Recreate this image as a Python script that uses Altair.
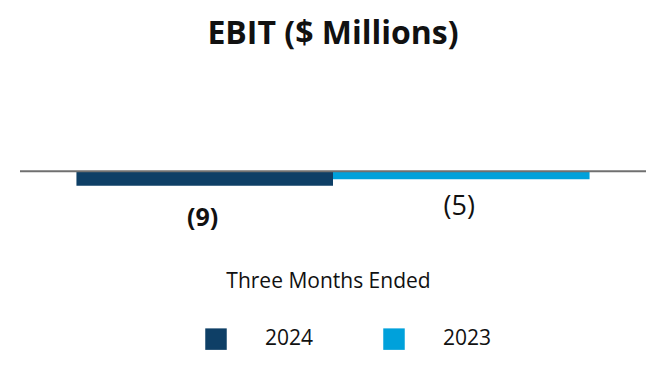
import altair as alt
import pandas as pd

years = ["2024", "2023"]
ebit = [-9, -5]
labels = ["(9)", "(5)"]
colors = ["#0E3F66", "#00A1DB"]

df = pd.DataFrame({"year": years, "ebit": ebit, "label": labels})
df9 = df[df["year"] == "2024"]
df5 = df[df["year"] == "2023"]
zero_df = pd.DataFrame({"zero": [0]})

FONT = "Open Sans"

x = alt.X(
    "year:N",
    sort=years,
    scale=alt.Scale(paddingInner=0, paddingOuter=0.22),
    axis=alt.Axis(
        labels=False, ticks=False, domain=False, grid=False,
        title="Three Months Ended", titleFontSize=21, titleFontWeight="normal",
        titleFont=FONT, titleColor="#111111", titlePadding=18,
        titleX=308, titleAlign="center",
    ),
)
yscale = alt.Scale(domain=[-50, 70], nice=False, zero=False)
y = alt.Y("ebit:Q", scale=yscale, axis=None)

bars = alt.Chart(df).mark_bar().encode(
    x=x,
    y=y,
    color=alt.Color(
        "year:N",
        sort=years,
        scale=alt.Scale(domain=years, range=colors),
        legend=alt.Legend(
            title=None, orient="none", direction="horizontal",
            legendX=185, legendY=270, padding=0,
            symbolType="square", symbolSize=462, symbolStrokeWidth=0,
            symbolOpacity=1, labelFont=FONT, labelFontSize=21,
            labelColor="#111111", labelOffset=38, columnPadding=69,
        ),
    ),
)

rule = alt.Chart(zero_df).mark_rule(color="#707070", strokeWidth=2).encode(
    y=alt.Y("zero:Q", scale=yscale, axis=None)
)

lab9 = alt.Chart(df9).mark_text(
    font=FONT, fontSize=25, fontWeight="bold", baseline="top", dy=20, dx=-2,
    color="#111111"
).encode(x=x, y=y, text="label:N")

lab5 = alt.Chart(df5).mark_text(
    font=FONT, fontSize=27, fontWeight="normal", baseline="top", dy=15, dx=-2,
    color="#111111"
).encode(x=x, y=y, text="label:N")

chart = (
    alt.layer(bars, rule, lab9, lab5)
    .properties(
        width=626,
        height=194,
        autosize=alt.AutoSizeParams(type="none"),
        padding={"left": 20, "top": 58, "right": 20, "bottom": 128},
        title=alt.Title(
            "EBIT ($ Millions)", font=FONT, fontSize=32, fontWeight="bold",
            color="#111111", anchor="middle", offset=7,
        ),
    )
    .configure_view(stroke=None)
)

chart.save("out.html", embed_options={"renderer": "svg", "actions": False})
